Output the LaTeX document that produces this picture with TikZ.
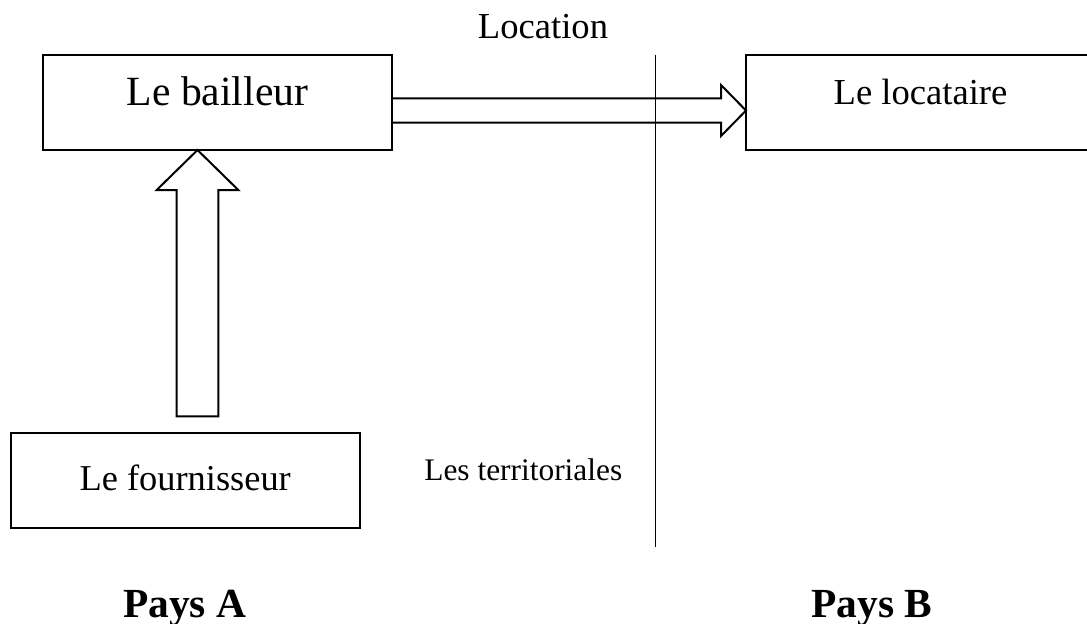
\documentclass[tikz,border=0pt]{standalone}
\usepackage{fontspec}
\setmainfont{Liberation Serif}
\usetikzlibrary{calc}

\begin{document}
\begin{tikzpicture}[x=0.5pt, y=-0.5pt,
  box/.style={draw, line width=1pt, minimum width=174.5pt, minimum height=47.5pt,
    inner sep=0pt, outer sep=0pt, text height=12pt},
  hollow/.style={draw, line width=1pt, line join=miter},
  divider/.style={line width=0.5pt}]
  \clip (0,0) rectangle (1087,623);

  % Country A: the lessor and its supplier
  \node[box, text depth=9.5pt, font=\fontsize{20.8}{25}\selectfont] (bailleur) at (217.5,102.5) {Le bailleur};
  \node[box, text depth=2.1pt, font=\fontsize{18.2}{22}\selectfont] (fournisseur) at (185.2,480.8) {Le fournisseur};

  % Country B: the lessee, its box runs off the page
  \node[box, text depth=10.2pt, font=\fontsize{18.3}{22}\selectfont] (locataire) at (920.5,102.5) {Le locataire};

  % Border between the two countries
  \coordinate (borderTop) at (655.3,54.7);
  \coordinate (borderBot) at (655.3,546.7);
  \draw[divider] (borderTop) -- (borderBot);

  % Hollow arrow for the lease
  \coordinate (leaseStart) at ($(bailleur.east)+(0,8)$);
  \coordinate (leaseTip) at (locataire.west |- leaseStart);
  \draw[hollow] ($(leaseStart)+(0,-12.2)$) -- ($(leaseTip)+(-25,-12.2)$)
    -- ($(leaseTip)+(-25,-25.5)$) -- (leaseTip) -- ($(leaseTip)+(-25,25.5)$)
    -- ($(leaseTip)+(-25,12.2)$) -- ($(leaseStart)+(0,12.2)$);

  % Hollow arrow from the supplier up to the lessor
  \coordinate (supplyTip) at ($(bailleur.south)+(-20,0)$);
  \coordinate (supplyFoot) at ($(supplyTip |- fournisseur.north)+(0,-17)$);
  \draw[hollow] ($(supplyFoot)+(-20.8,0)$) -- ($(supplyTip)+(-20.8,40)$)
    -- ($(supplyTip)+(-40.8,40)$) -- (supplyTip) -- ($(supplyTip)+(40.8,40)$)
    -- ($(supplyTip)+(20.8,40)$) -- ($(supplyFoot)+(20.8,0)$) -- cycle;

  % Labels
  \node[anchor=base, font=\fontsize{18.3}{22}\selectfont] (location) at (543,38.3) {Location};
  \node[anchor=base, font=\fontsize{15.7}{19}\selectfont] (territoriales) at (523.3,480) {Les territoriales};
  \node[anchor=base, font=\bfseries\fontsize{20.7}{25}\selectfont] (paysA) at (184.7,617.3) {Pays A};
  \node[anchor=base, font=\bfseries\fontsize{20.7}{25}\selectfont] (paysB) at (871.7,617.3) {Pays B};
\end{tikzpicture}
\end{document}
